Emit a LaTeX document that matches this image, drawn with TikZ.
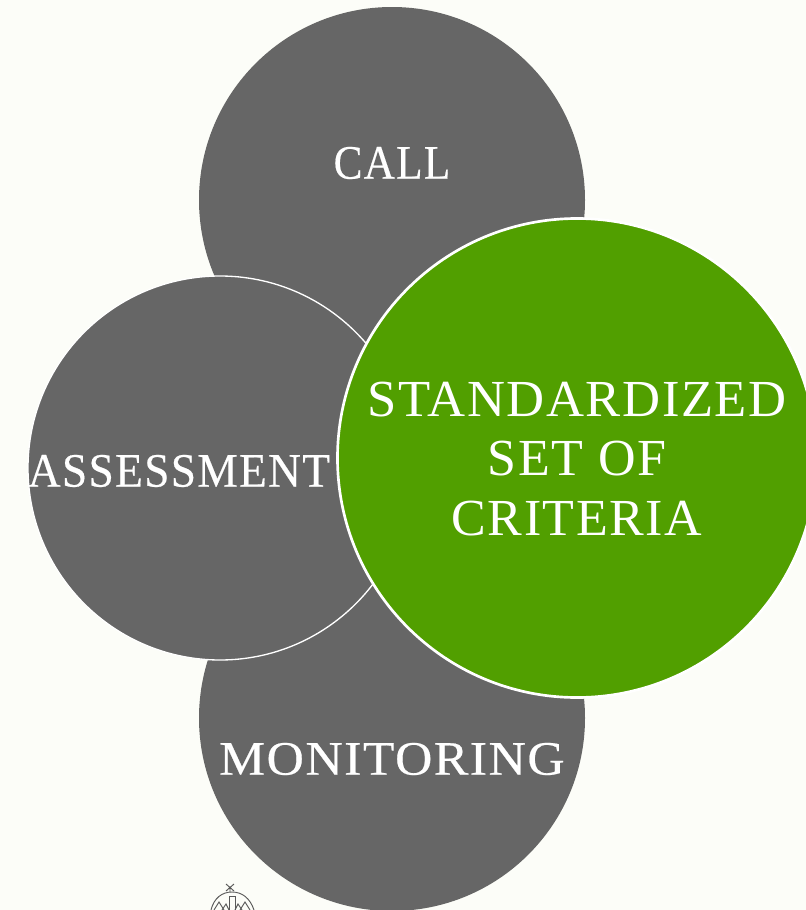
\documentclass[tikz,border=0pt]{standalone}
\usepackage{fontspec}
\newfontfamily\capfont[LetterSpace=3]{Liberation Serif}
\newfontfamily\capbold[LetterSpace=3,FakeBold=0.4]{Liberation Serif}
\usetikzlibrary{positioning}
\definecolor{pagebg}{HTML}{FCFDF8}
\definecolor{circgray}{HTML}{666666}
\definecolor{circgreen}{HTML}{519F00}
\begin{document}
\begin{tikzpicture}[x=0.75pt,y=-0.75pt]
          \tikzstyle{gnode} = [circle, fill=circgray, inner sep = 0pt]
          \tikzstyle{hnode} = [circle, fill=circgreen, draw=white, inner sep = 0pt]
          \tikzstyle{lbl} = [text=white, inner sep = 0pt, align=center, font=\capfont]

          \useasboundingbox (0,0) rectangle (806,910);
          \clip (0,0) rectangle (806,910);
          \fill[pagebg] (0,0) rectangle (806,910);

          \node[gnode, minimum size=386*0.75pt] (call) at (392,200) {};
          \node[gnode, minimum size=386*0.75pt] (moni) at (392,718) {};
          \node[gnode, draw=white, line width=1pt, minimum size=384*0.75pt] (asse) at (220,468) {};
          \node[hnode, line width=2pt, minimum size=479*0.75pt] (crit) at (577,458) {};

          \node[lbl, font=\capbold\fontsize{36}{40}\selectfont] (calltxt) at (392,163) {\scalebox{0.9}[1]{CALL}};
          \node[lbl, font=\capbold\fontsize{36}{40}\selectfont] (assetxt) at (179,471) {\scalebox{0.945}[1]{ASSESSMENT}};
          \node[lbl, font=\capbold\fontsize{36}{40}\selectfont] (monitxt) at (392,759) {\scalebox{1.075}[1]{MONITORING}};
          \node[lbl, font=\capfont\fontsize{39}{44.5}\selectfont] (crittxt) at (577,459) {\scalebox{1.012}[1]{STANDARDIZED}\\SET OF\\CRITERIA};

          % small building mark
          \begin{scope}[draw=black!65, line width=0.7pt]
            \draw (211,910) .. controls (214,898) and (222,892) .. (232,892) .. controls (242,892) and (250,898) .. (254,910);
            \draw (230,892) -- (230,888) (226,884) -- (234,891) (234,884) -- (226,891);
            \draw (214,910) -- (219,902) -- (224,910) (240,910) -- (245,902) -- (250,910);
            \draw (222,910) -- (226,904) -- (229,910) (235,910) -- (238,904) -- (242,910);
            \draw (229,910) -- (229,896) -- (235,896) -- (235,910);
          \end{scope}
        \end{tikzpicture}
\end{document}
